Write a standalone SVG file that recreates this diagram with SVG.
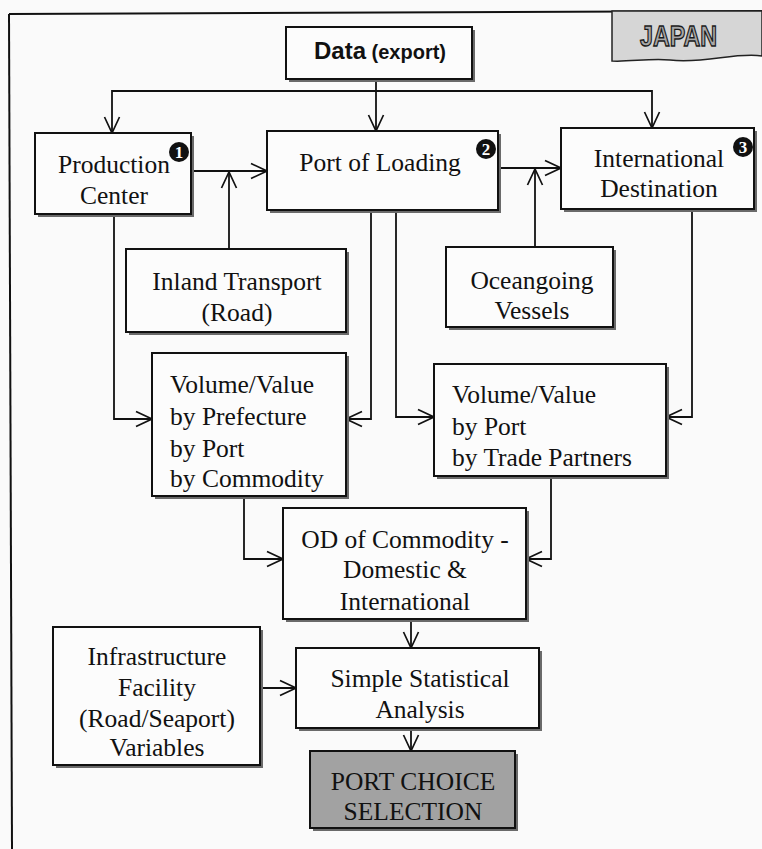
<svg xmlns="http://www.w3.org/2000/svg" width="762" height="849" viewBox="0 0 762 849">
<defs>
<marker id="ah" markerUnits="userSpaceOnUse" viewBox="0 0 18 18" refX="17" refY="9" markerWidth="18" markerHeight="18" orient="auto">
<path d="M1,1.5 L17,9 L1,16.5" fill="none" stroke="#111" stroke-width="1.7"/>
</marker>
<style>
.box{fill:#fcfcfc;stroke:#111;stroke-width:2}
.sh{fill:#6a6a6a}
.t{font-family:"Liberation Serif","Times New Roman",serif;font-size:25.5px;fill:#111}
.c{text-anchor:middle}
.con{fill:none;stroke:#111;stroke-width:1.8;marker-end:url(#ah)}
.num{fill:#111}
.nt{font-family:"Liberation Serif","Times New Roman",serif;font-size:17px;font-weight:bold;fill:#fff;text-anchor:middle}
</style>
</defs>
<rect width="762" height="849" fill="#fafafa"/>
<g id="frame">
<path d="M9,14 L762,11" stroke="#111" stroke-width="2" fill="none"/>
<path d="M9,14 L12,849" stroke="#111" stroke-width="2" fill="none"/>
</g>
<g id="japan-tag">
<path d="M612,11 H762 V56 C735,52 705,64 670,60 C650,58 630,62 612,61 Z" fill="#d6d6d6" stroke="#222" stroke-width="1.5"/>
<text x="640" y="46" textLength="77" lengthAdjust="spacingAndGlyphs" font-family="Liberation Sans,Arial,sans-serif" font-weight="bold" font-size="29" fill="#a8a8a8" stroke="#1a1a1a" stroke-width="1.4">JAPAN</text>
</g>
<g id="connectors">
<path class="con" d="M376,79 V131"/>
<path class="con" d="M376,91 H112 V133"/>
<path class="con" d="M376,91 H652 V128"/>
<path class="con" d="M191,171 H267"/>
<path class="con" d="M229,249 V172"/>
<path class="con" d="M498,168 H561"/>
<path class="con" d="M535,247 V169"/>
<path class="con" d="M114,214 V419 H152"/>
<path class="con" d="M371,210 V419 H346"/>
<path class="con" d="M396,210 V417 H434"/>
<path class="con" d="M692,209 V417 H666"/>
<path class="con" d="M244,496 V559 H283"/>
<path class="con" d="M551,476 V559 H526"/>
<path class="con" d="M411,619 V648"/>
<path class="con" d="M260,688 H296"/>
<path class="con" d="M411,728 V751"/>
</g>
<g id="data">
<rect class="sh" x="289" y="30" width="186" height="52"/>
<rect class="box" x="286" y="27" width="186" height="52"/>
<text x="380" y="59" text-anchor="middle" font-family="Liberation Sans,Arial,sans-serif" font-weight="bold" fill="#111"><tspan font-size="24">Data</tspan><tspan font-size="20"> (export)</tspan></text>
</g>
<g id="production-center">
<rect class="sh" x="38" y="136" width="156" height="81"/>
<rect class="box" x="35" y="133" width="156" height="81"/>
<text class="t c" x="114" y="173">Production</text>
<text class="t c" x="114" y="204">Center</text>
<circle class="num" cx="179" cy="152" r="10"/>
<text class="nt" x="179" y="158">1</text>
</g>
<g id="port-of-loading">
<rect class="sh" x="270" y="134" width="231" height="79"/>
<rect class="box" x="267" y="131" width="231" height="79"/>
<text class="t c" x="380" y="171">Port of Loading</text>
<circle class="num" cx="486" cy="149" r="10"/>
<text class="nt" x="486" y="155">2</text>
</g>
<g id="international-destination">
<rect class="sh" x="564" y="131" width="193" height="81"/>
<rect class="box" x="561" y="128" width="193" height="81"/>
<text class="t c" x="659" y="167">International</text>
<text class="t c" x="659" y="197">Destination</text>
<circle class="num" cx="743" cy="147" r="10"/>
<text class="nt" x="743" y="153">3</text>
</g>
<g id="inland-transport">
<rect class="sh" x="129" y="252" width="220" height="83"/>
<rect class="box" x="126" y="249" width="220" height="83"/>
<text class="t c" x="237" y="290">Inland Transport</text>
<text class="t c" x="237" y="321">(Road)</text>
</g>
<g id="oceangoing-vessels">
<rect class="sh" x="449" y="250" width="167" height="80"/>
<rect class="box" x="446" y="247" width="167" height="80"/>
<text class="t c" x="532" y="289">Oceangoing</text>
<text class="t c" x="532" y="319">Vessels</text>
</g>
<g id="volume-prefecture">
<rect class="sh" x="155" y="356" width="194" height="143"/>
<rect class="box" x="152" y="353" width="194" height="143"/>
<text class="t" x="170" y="393">Volume/Value</text>
<text class="t" x="170" y="425">by Prefecture</text>
<text class="t" x="170" y="457">by Port</text>
<text class="t" x="170" y="487">by Commodity</text>
</g>
<g id="volume-trade">
<rect class="sh" x="437" y="367" width="232" height="112"/>
<rect class="box" x="434" y="364" width="232" height="112"/>
<text class="t" x="452" y="403">Volume/Value</text>
<text class="t" x="452" y="435">by Port</text>
<text class="t" x="452" y="466">by Trade Partners</text>
</g>
<g id="od-commodity">
<rect class="sh" x="286" y="511" width="243" height="111"/>
<rect class="box" x="283" y="508" width="243" height="111"/>
<text class="t c" x="405" y="548">OD of Commodity -</text>
<text class="t c" x="405" y="578">Domestic &amp;</text>
<text class="t c" x="405" y="610">International</text>
</g>
<g id="infrastructure">
<rect class="sh" x="56" y="630" width="207" height="138"/>
<rect class="box" x="53" y="627" width="207" height="138"/>
<text class="t c" x="157" y="665">Infrastructure</text>
<text class="t c" x="157" y="696">Facility</text>
<text class="t c" x="157" y="727">(Road/Seaport)</text>
<text class="t c" x="157" y="756">Variables</text>
</g>
<g id="statistical-analysis">
<rect class="sh" x="299" y="651" width="243" height="80"/>
<rect class="box" x="296" y="648" width="243" height="80"/>
<text class="t c" x="420" y="687">Simple Statistical</text>
<text class="t c" x="420" y="718">Analysis</text>
</g>
<g id="port-choice">
<rect class="sh" x="313" y="754" width="205" height="77"/>
<rect class="box" x="310" y="751" width="205" height="77" style="fill:#a2a2a2"/>
<text class="t c" x="413" y="790">PORT CHOICE</text>
<text class="t c" x="413" y="820">SELECTION</text>
</g>
</svg>
